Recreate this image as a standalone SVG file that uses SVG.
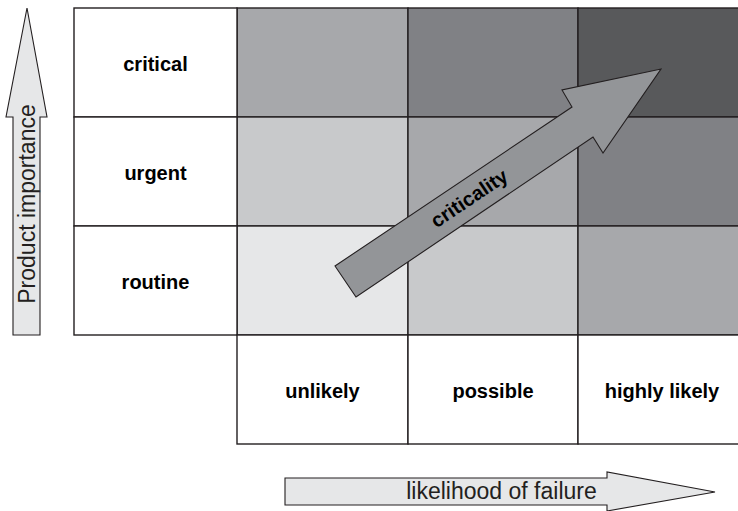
<svg xmlns="http://www.w3.org/2000/svg" width="738" height="511" viewBox="0 0 738 511">
<style>
.cell{stroke:#231f20;stroke-width:1.4}
.lbl{font-family:"Liberation Sans",Arial,sans-serif;font-weight:bold;font-size:20px;fill:#000;text-anchor:middle}
.axis{font-family:"Liberation Sans",Arial,sans-serif;font-size:23px;fill:#231f20;text-anchor:middle}
.arr{stroke:#231f20;stroke-width:1.1;stroke-linejoin:miter}
</style>
<rect width="738" height="511" fill="#ffffff"/>
<g id="grid">
<rect class="cell" x="237" y="8" width="171" height="109" fill="#a7a8ab"/>
<rect class="cell" x="408" y="8" width="170" height="109" fill="#808185"/>
<rect class="cell" x="578" y="8" width="170" height="109" fill="#58595b"/>
<rect class="cell" x="237" y="117" width="171" height="109" fill="#c8c9cb"/>
<rect class="cell" x="408" y="117" width="170" height="109" fill="#a7a8ab"/>
<rect class="cell" x="578" y="117" width="170" height="109" fill="#808185"/>
<rect class="cell" x="237" y="226" width="171" height="109" fill="#e6e7e8"/>
<rect class="cell" x="408" y="226" width="170" height="109" fill="#c8c9cb"/>
<rect class="cell" x="578" y="226" width="170" height="109" fill="#a7a8ab"/>
</g>
<g id="row-critical">
<rect class="cell" x="74" y="8" width="163" height="109" fill="#ffffff"/>
<text class="lbl" x="155.5" y="71">critical</text>
</g>
<g id="row-urgent">
<rect class="cell" x="74" y="117" width="163" height="109" fill="#ffffff"/>
<text class="lbl" x="155.5" y="180">urgent</text>
</g>
<g id="row-routine">
<rect class="cell" x="74" y="226" width="163" height="109" fill="#ffffff"/>
<text class="lbl" x="155.5" y="289">routine</text>
</g>
<g id="col-unlikely">
<rect class="cell" x="237" y="335" width="171" height="109" fill="#ffffff"/>
<text class="lbl" x="322.5" y="398">unlikely</text>
</g>
<g id="col-possible">
<rect class="cell" x="408" y="335" width="170" height="109" fill="#ffffff"/>
<text class="lbl" x="493" y="398">possible</text>
</g>
<g id="col-highly-likely">
<rect class="cell" x="578" y="335" width="170" height="109" fill="#ffffff"/>
<text class="lbl" x="662" y="398">highly likely</text>
</g>
<g id="connectors">
<g id="criticality-arrow">
<polygon class="arr" fill="#939598" points="335,266 572,107 562,90 661,69 603,153 593,137 356,297"/>
<text class="lbl" transform="translate(473,204) rotate(-33.9)">criticality</text>
</g>
<g id="importance-arrow">
<polygon class="arr" fill="#e6e7e8" points="13,335 13,117 6,117 27,8 47,117 40,117 40,335"/>
<text class="axis" transform="translate(35,204) rotate(-90)">Product importance</text>
</g>
<g id="likelihood-arrow">
<polygon class="arr" fill="#e6e7e8" points="285,478 607,478 607,472 715,492 607,511 607,505 285,505"/>
<text class="axis" x="501.5" y="499">likelihood of failure</text>
</g>
</g>
</svg>
